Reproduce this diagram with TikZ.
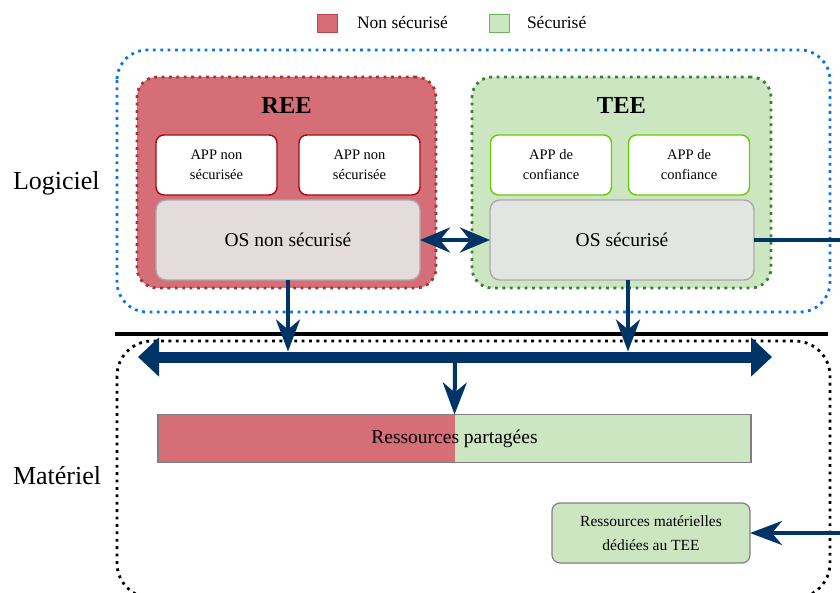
\documentclass[tikz,border=0pt]{standalone}
\usepackage{fontspec}
\setmainfont{Liberation Serif}
\usetikzlibrary{arrows.meta}

\definecolor{redfill}{RGB}{213,110,118}
\definecolor{redline}{RGB}{168,48,58}
\definecolor{appred}{RGB}{160,12,12}
\definecolor{greenfill}{RGB}{205,230,194}
\definecolor{greenline}{RGB}{58,128,52}
\definecolor{appgreen}{RGB}{102,204,0}
\definecolor{legendgreen}{RGB}{110,180,95}
\definecolor{legendred}{RGB}{184,70,78}
\definecolor{navy}{RGB}{0,51,102}
\definecolor{swblue}{RGB}{10,115,230}
\definecolor{osred}{RGB}{228,219,220}
\definecolor{osgreen}{RGB}{227,229,227}
\definecolor{boxgray}{RGB}{170,170,170}
\definecolor{resgray}{RGB}{128,128,128}

\begin{document}
\begin{tikzpicture}[x=1pt,y=-1pt,
  every node/.style={inner sep=0pt, outer sep=0pt},
  dots/.style={line width=2.8pt, dash pattern=on 2.8pt off 4.6pt},
  zone/.style={dots, rounded corners=30pt},
  envbox/.style={dots, rounded corners=20pt, minimum width=299pt, minimum height=211pt},
  envtitle/.style={font=\fontsize{24.5}{28}\selectfont\bfseries},
  appbox/.style={draw, fill=white, line width=1.4pt, rounded corners=8pt,
    minimum width=121pt, minimum height=60pt, align=center,
    font=\fontsize{14.5}{20}\selectfont},
  osbox/.style={draw=boxgray, line width=1.4pt, rounded corners=10pt,
    minimum width=264pt, minimum height=80pt, font=\fontsize{19.5}{23}\selectfont},
  layer/.style={font=\fontsize{26}{30}\selectfont, anchor=west},
  legendsq/.style={line width=1pt, minimum width=20pt, minimum height=18pt},
  legendtxt/.style={font=\fontsize{17.5}{20}\selectfont, anchor=west},
  link/.style={navy, line width=4pt},
  tip/.style={-{Stealth[length=32pt, width=24pt, inset=10pt]}},
  bustip/.style={{Triangle[length=21pt, width=38pt]}-{Triangle[length=21pt, width=38pt]}}
]
\useasboundingbox (0,0) rectangle (840,593);
\clip (0,0) rectangle (840,593);

% legend
\node[legendsq, draw=legendred, fill=redfill] (lred) at (327,24) {};
\node[legendtxt] (lredtxt) at (357,23) {Non sécurisé};
\node[legendsq, draw=legendgreen, fill=greenfill] (lgreen) at (499,24) {};
\node[legendtxt] (lgreentxt) at (527,23) {Sécurisé};

% software and hardware layers
\draw[zone, swblue] (117,50) rectangle (830,312);
\draw[zone, black, rounded corners=35pt] (117,341) rectangle (830,598);
\draw[line width=3pt] (115,334) -- (828,334);

\node[layer] (logiciel) at (13,183) {Logiciel};
\node[layer] (materiel) at (13,476) {Matériel};

% REE
\node[envbox, draw=redline, fill=redfill] (ree) at (286.5,182.5) {};
\node[envtitle] (reetitle) at (286.5,105) {REE};
\node[appbox, draw=appred] (app1) at (216.5,165) {APP non\\sécurisée};
\node[appbox, draw=appred] (app2) at (359.5,165) {APP non\\sécurisée};
\node[osbox, fill=osred] (osn) at (288,240) {OS non sécurisé};

% TEE
\node[envbox, draw=greenline, fill=greenfill] (tee) at (621.5,182.5) {};
\node[envtitle] (teetitle) at (621.5,105) {TEE};
\node[appbox, draw=appgreen] (app3) at (551,165) {APP de\\confiance};
\node[appbox, draw=appgreen] (app4) at (689,165) {APP de\\confiance};
\node[osbox, fill=osgreen] (oss) at (622,240) {OS sécurisé};

% hardware resources
\node[draw=resgray, line width=1.2pt, minimum width=593pt, minimum height=48pt,
  font=\fontsize{19.5}{23}\selectfont,
  path picture={
    \fill[redfill] (path picture bounding box.south west) rectangle (path picture bounding box.north);
    \fill[greenfill] (path picture bounding box.south) rectangle (path picture bounding box.north east);
  }] (res) at (454.5,438.5) {Ressources partagées};
\node[draw=resgray, fill=greenfill, line width=1.2pt, rounded corners=8pt,
  minimum width=198pt, minimum height=60pt, align=center,
  font=\fontsize{15.5}{24}\selectfont] (ded) at (651,533) {Ressources matérielles\\dédiées au TEE};

% bus
\coordinate (busL) at (138,357);
\coordinate (busR) at (772,357);
\draw[navy, line width=11pt, bustip] (busL) -- (busR);
\coordinate (busN1) at (288,351.5);
\coordinate (busN2) at (628,351.5);
\coordinate (busS) at (455,362);

% connectors
\draw[link, tip] (osn.south) -- (busN1);
\draw[link, tip] (oss.south -| busN2) -- (busN2);
\draw[link, tip] (busS) -- (res.north);
\draw[navy, line width=4.5pt, {Stealth[length=30pt, width=25pt, inset=10pt]}-{Stealth[length=30pt, width=25pt, inset=10pt]}] (osn.east) -- (oss.west);
\coordinate (outA) at (850,240);
\coordinate (outB) at (850,533);
\draw[link] (oss.east) -- (outA);
\draw[link, tip] (outB) -- (ded.east);
\end{tikzpicture}
\end{document}
